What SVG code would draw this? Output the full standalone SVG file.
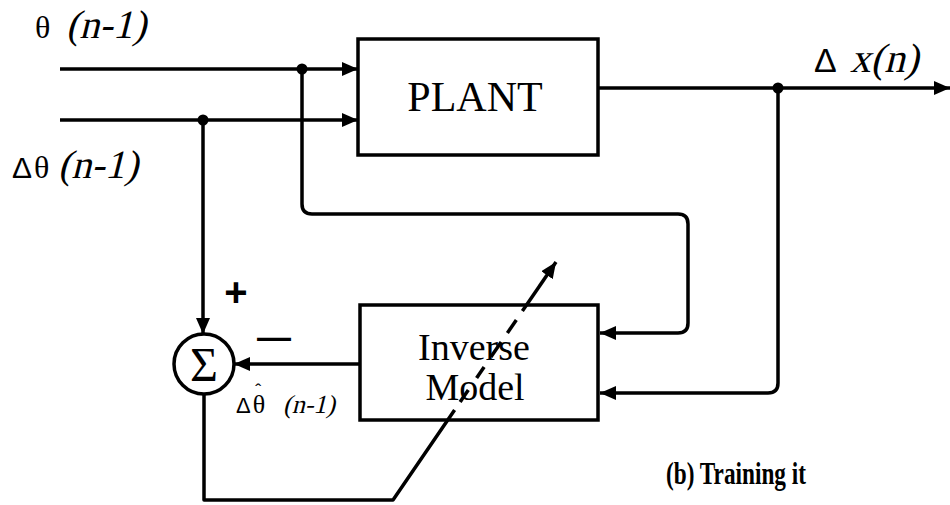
<svg xmlns="http://www.w3.org/2000/svg" width="950" height="505" viewBox="0 0 950 505">
<style>
.ln{fill:none;stroke:#000;stroke-width:3.5;stroke-linejoin:round}
.bx{fill:none;stroke:#000;stroke-width:3.5}
.dot{fill:#000}
.serif{font-family:"Liberation Serif","Times New Roman",serif;fill:#000}
.sans{font-family:"Liberation Sans",Arial,sans-serif;fill:#000}
</style>
<defs>
<marker id="ah" markerUnits="userSpaceOnUse" markerWidth="16" markerHeight="14" refX="16" refY="7" orient="auto">
<path d="M0,0 L16,7 L0,14 z" fill="#000"/>
</marker>
</defs>
<rect width="950" height="505" fill="#fff"/>
<g id="connectors">
<path class="ln" d="M60,69 H358" marker-end="url(#ah)"/>
<path class="ln" d="M60,120 H358" marker-end="url(#ah)"/>
<path class="ln" d="M598,88 H950" marker-end="url(#ah)"/>
<path class="ln" d="M302,69 V204 Q302,214 312,214 H678 Q688,214 688,224 V323 Q688,333 678,333 H600" marker-end="url(#ah)"/>
<path class="ln" d="M778,88 V383 Q778,393 768,393 H600" marker-end="url(#ah)"/>
<path class="ln" d="M203,120 V334" marker-end="url(#ah)"/>
<path class="ln" d="M360,364 H234" marker-end="url(#ah)"/>
<path class="ln" d="M204,394 V500 H393 L454.6,410"/>
<line class="ln" x1="460.1" y1="402" x2="468.3" y2="390"/>
<line class="ln" x1="476.6" y1="378" x2="484.1" y2="367"/>
<line class="ln" x1="490.9" y1="357" x2="501.2" y2="342"/>
<line class="ln" x1="507.4" y1="333" x2="516.3" y2="320"/>
<path class="ln" d="M522.4,311 L556,262" marker-end="url(#ah)"/>
<circle class="dot" cx="302" cy="69" r="5.5"/>
<circle class="dot" cx="203" cy="120" r="5.5"/>
<circle class="dot" cx="778" cy="88" r="5.5"/>
</g>
<g id="plant">
<rect class="bx" x="358" y="39" width="240" height="116"/>
<text class="serif" x="475" y="111" font-size="42" text-anchor="middle">PLANT</text>
</g>
<g id="inverse-model">
<rect class="bx" x="360" y="305" width="238" height="115"/>
<text class="serif" x="474" y="360" font-size="38" text-anchor="middle">Inverse</text>
<text class="serif" x="475" y="400" font-size="38" text-anchor="middle">Model</text>
</g>
<g id="sum">
<circle cx="204" cy="364" r="30" fill="#fff" stroke="#000" stroke-width="3.5"/>
<text class="serif" x="204" y="381" font-size="48" text-anchor="middle">Σ</text>
</g>
<g id="labels">
<text class="serif" x="35" y="38" font-size="32">θ</text>
<text class="serif" transform="translate(66,38) skewX(-14)" font-size="40">(n-1)</text>
<text class="sans" x="12" y="178" font-size="30">Δ</text>
<text class="serif" x="34" y="178" font-size="32">θ</text>
<text class="serif" transform="translate(58,178) skewX(-14)" font-size="40">(n-1)</text>
<text class="sans" x="814" y="72" font-size="34">Δ</text>
<text class="serif" transform="translate(850,72) skewX(-14)" font-size="41">x(n)</text>
<text class="sans" x="236" y="306" font-size="40" font-weight="bold" text-anchor="middle">+</text>
<text class="sans" x="274" y="348" font-size="34" font-weight="bold" text-anchor="middle">—</text>
<text class="sans" x="236" y="413" font-size="22">Δ<tspan class="serif" font-size="26" dx="2">θ</tspan><tspan font-size="18" dx="-10" dy="-16">ˆ</tspan></text>
<text class="serif" transform="translate(283,413) skewX(-14)" font-size="26">(n-1)</text>
<text class="serif" x="666" y="484" font-size="32" font-weight="bold" textLength="140" lengthAdjust="spacingAndGlyphs">(b)  Training  it</text>
</g>
</svg>
